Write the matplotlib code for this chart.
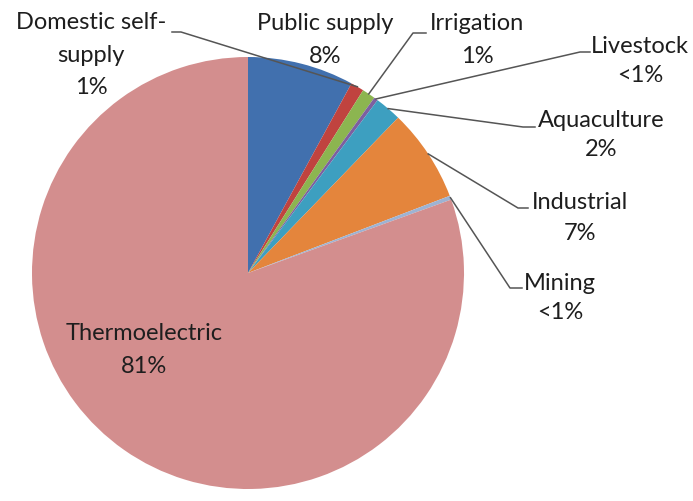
import matplotlib
matplotlib.use("Agg")
import matplotlib.pyplot as plt
import numpy as np

# water withdrawals by category, percent of total
categories = ["Public supply", "Domestic self-\nsupply", "Irrigation", "Livestock",
              "Aquaculture", "Industrial", "Mining", "Thermoelectric"]
shares = [8, 1, 1, 0.3, 2, 7, 0.3, 81]
pct_labels = ["8%", "1%", "1%", "<1%", "2%", "7%", "<1%", "81%"]
colors = ["#4170AE", "#C0433F", "#8CB550", "#7D5FA0",
          "#3D9FC0", "#E4853C", "#9DB3D3", "#D38E8E"]

W, H = 693, 501
CX, CY, R = 248, 273, 216

# label centre, line spacing and leader elbow/stub per category (pixels, y down)
label_pos = {
    "Public supply": (325, 40, 1.65, None),
    "Domestic self-\nsupply": (91, 55, 1.65, [(181, 32), (172, 32)]),
    "Irrigation": (477, 40, 1.65, [(413, 33), (426, 33)]),
    "Livestock": (640, 61, 1.5, [(580, 52), (590, 52)]),
    "Aquaculture": (601, 135, 1.45, [(523, 127), (535, 127)]),
    "Industrial": (580, 218, 1.55, [(518, 208), (528, 208)]),
    "Mining": (560, 298, 1.45, [(510, 288), (522, 288)]),
    "Thermoelectric": (144, 350, 1.65, None),
}

fig = plt.figure(figsize=(W / 100, H / 100), dpi=100)
ax = fig.add_axes([0, 0, 1, 1])

# y axis runs downward, so counterclock=True from -90 goes clockwise from the top
wedges, _ = ax.pie(shares, colors=colors, startangle=-90, counterclock=True,
                   center=(CX, CY), radius=R, frame=False,
                   wedgeprops=dict(linewidth=0))
ax.set_xlim(0, W)
ax.set_ylim(H, 0)
ax.set_axis_off()

font = dict(family=["Lato", "DejaVu Sans"], fontsize=17, color="#1e1e1e")

for w, name, pct in zip(wedges, categories, pct_labels):
    x, y, spacing, leader = label_pos[name]
    ax.text(x, y, f"{name}\n{pct}", ha="center", va="center",
            multialignment="center", linespacing=spacing, **font)
    if leader:
        mid = np.deg2rad((w.theta1 + w.theta2) / 2)
        edge = (CX + R * np.cos(mid), CY + R * np.sin(mid))
        xs = [edge[0]] + [p[0] for p in leader]
        ys = [edge[1]] + [p[1] for p in leader]
        ax.plot(xs, ys, color="#555555", lw=1.1)

fig.savefig("out.png", dpi=100)
